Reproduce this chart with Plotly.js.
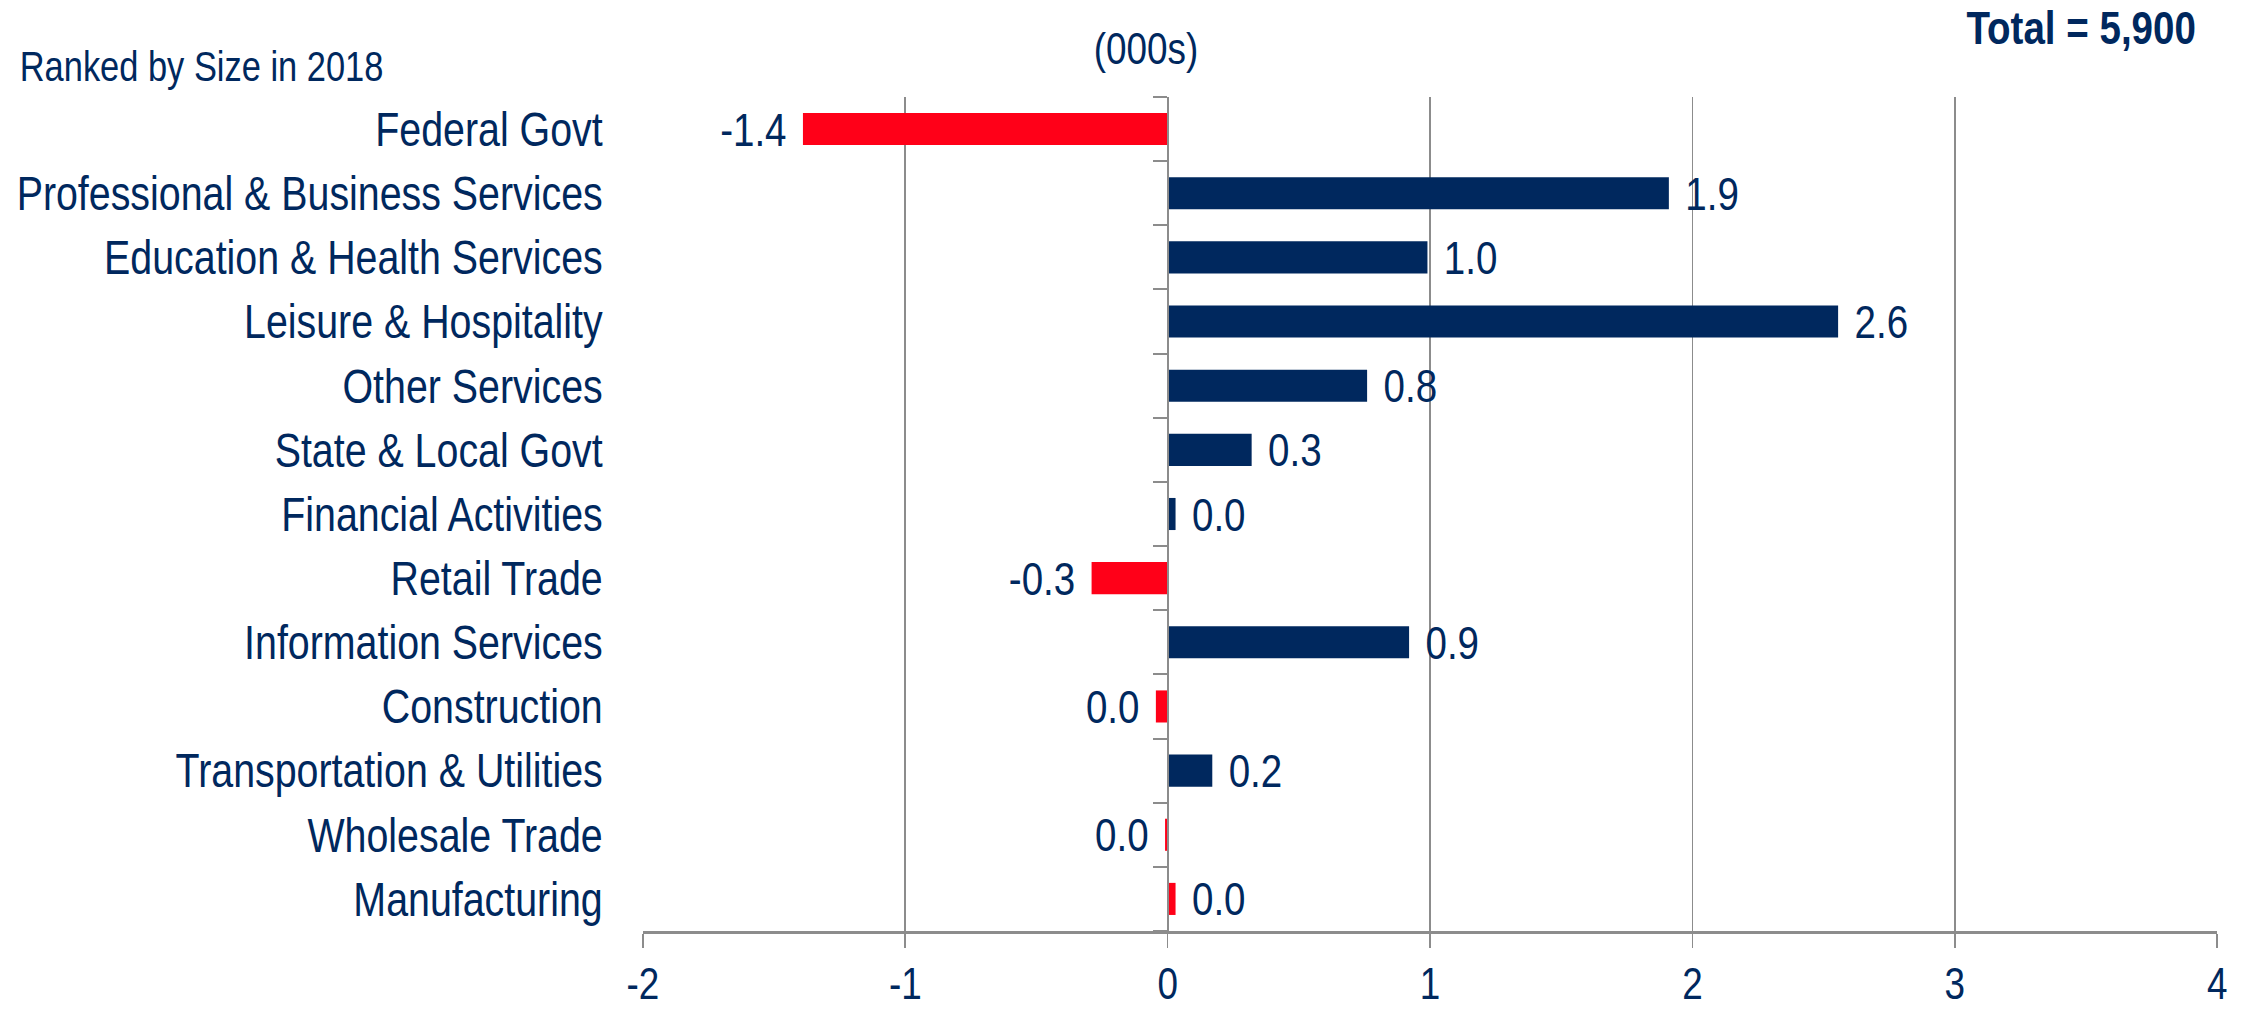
<!DOCTYPE html>
<html>
<head>
<meta charset="utf-8">
<script src="https://cdn.plot.ly/plotly-3.0.1.min.js"></script>
<style>
  html, body { margin: 0; padding: 0; background: #fff; overflow: hidden; }
  #wrap { width: 2241px; height: 1009px; overflow: hidden; }
  /* no narrow font installed: draw wider and squeeze horizontally (Arial Narrow look) */
  #chart { width: 2733px; height: 1009px; transform: scaleX(0.82); transform-origin: 0 0; }
</style>
</head>
<body>
<div id="wrap"><div id="chart"></div></div>
<script>
// job change by industry, ranked by size in 2018 (000s)
const industries = [
  'Federal Govt',
  'Professional & Business Services',
  'Education & Health Services',
  'Leisure & Hospitality',
  'Other Services',
  'State & Local Govt',
  'Financial Activities',
  'Retail Trade',
  'Information Services',
  'Construction',
  'Transportation & Utilities',
  'Wholesale Trade',
  'Manufacturing'
];
const changes = [-1.39, 1.91, 0.99, 2.555, 0.76, 0.32, 0.03, -0.29, 0.92, -0.045, 0.17, -0.01, 0.03];
const redBars = ['Federal Govt', 'Retail Trade', 'Construction', 'Wholesale Trade', 'Manufacturing'];
const xTicks = [-2, -1, 0, 1, 2, 3, 4];
const totalLabel = 'Total = 5,900';

const SX = 0.82; // horizontal squeeze of #chart
const W = 2733;
const H = 1009;
const NAVY = '#00285e';
const RED = '#ff0018';
const GRID = '#8c8c8c';
const FONT = '"Liberation Sans", Arial, sans-serif';

function fmt(v) {
  const r = Math.round(v * 10) / 10;
  return (r === 0 ? 0 : r).toFixed(1);
}

const PAD = '\u00a0\u200a';
const barColors = industries.map(n => (redBars.includes(n) ? RED : NAVY));
const barText = changes.map(v => (v < 0 ? fmt(v) + PAD : PAD + fmt(v)));

// boundaries between categories, for the ticks on the zero line
const boundaries = [];
for (let i = 0; i <= industries.length; i++) boundaries.push(i - 0.5);

const data = [
  {
    type: 'bar',
    orientation: 'h',
    y: industries,
    x: changes,
    marker: { color: barColors },
    text: barText,
    textposition: 'outside',
    textfont: { family: FONT, size: 47, color: NAVY },
    constraintext: 'none',
    cliponaxis: false,
    hoverinfo: 'skip'
  },
  {
    type: 'scatter',
    x: [],
    y: [],
    yaxis: 'y2',
    hoverinfo: 'skip',
    showlegend: false
  }
];

const layout = {
  width: W,
  height: H,
  margin: { l: 643 / SX, r: 24 / SX, t: 97, b: 78 },
  paper_bgcolor: '#fff',
  plot_bgcolor: '#fff',
  showlegend: false,
  bargap: 0.5,
  font: { family: FONT, color: NAVY },
  title: {
    text: '(000s)',
    font: { family: FONT, size: 45, color: NAVY },
    x: 1146 / 2241,
    xanchor: 'center',
    y: 1 - 48 / H,
    yanchor: 'middle'
  },
  xaxis: {
    range: [-2, 4],
    tickvals: xTicks,
    ticktext: xTicks.map(String),
    showgrid: true,
    gridcolor: GRID,
    gridwidth: 2.4,
    zeroline: false,
    showline: true,
    linecolor: GRID,
    linewidth: 3,
    ticks: 'outside',
    ticklen: 14,
    tickwidth: 2.4,
    tickcolor: GRID,
    tickfont: { family: FONT, size: 45, color: NAVY },
    ticklabelstandoff: -3,
    fixedrange: true
  },
  yaxis: {
    type: 'category',
    autorange: 'reversed',
    showgrid: false,
    zeroline: false,
    showline: false,
    ticks: '',
    tickfont: { family: FONT, size: 48, color: NAVY },
    ticklabelstandoff: 48,
    fixedrange: true
  },
  yaxis2: {
    overlaying: 'y',
    anchor: 'free',
    position: 1 / 3,
    range: [industries.length - 0.5, -0.5],
    tickvals: boundaries,
    showticklabels: false,
    showgrid: false,
    zeroline: false,
    showline: true,
    linecolor: GRID,
    linewidth: 2.6,
    ticks: 'outside',
    ticklen: 17,
    tickwidth: 2,
    tickcolor: GRID,
    fixedrange: true
  },
  annotations: [
    {
      text: 'Ranked by Size in 2018',
      xref: 'paper', yref: 'paper',
      x: -0.397, xanchor: 'left',
      y: 1.0363, yanchor: 'middle',
      showarrow: false,
      font: { family: FONT, size: 42, color: NAVY }
    },
    {
      text: '<b>' + totalLabel + '</b>',
      xref: 'paper', yref: 'paper',
      x: 0.9873, xanchor: 'right',
      y: 1.0833, yanchor: 'middle',
      showarrow: false,
      font: { family: FONT, size: 47, color: NAVY }
    }
  ]
};

Plotly.newPlot('chart', data, layout, { displayModeBar: false, responsive: false });
</script>
</body>
</html>
